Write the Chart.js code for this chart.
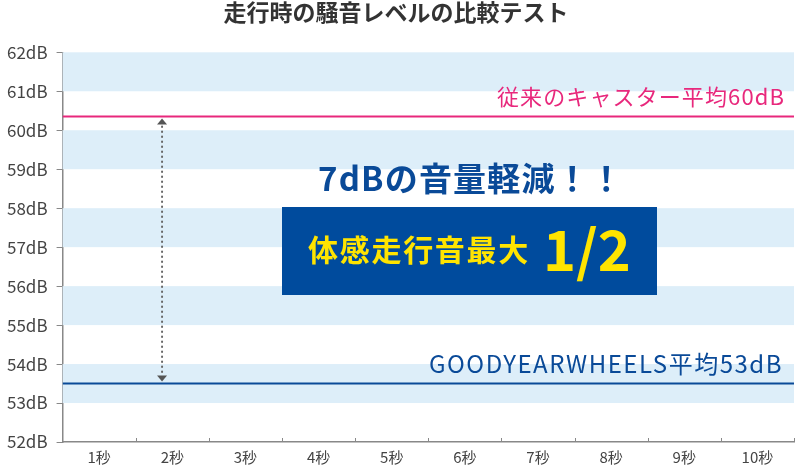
<!DOCTYPE html>
<html>
<head>
<meta charset="utf-8">
<script src="https://cdn.jsdelivr.net/npm/chart.js@4"></script>
<style>
  body { margin: 0; background: #fff; }
  #wrap { width: 800px; height: 466px; }
</style>
</head>
<body>
<div id="wrap"><canvas id="noise"></canvas></div>
<script>
// categories (x) and y range
const seconds = ['1秒', '2秒', '3秒', '4秒', '5秒', '6秒', '7秒', '8秒', '9秒', '10秒']
const yTicks = [52, 53, 54, 55, 56, 57, 58, 59, 60, 61, 62]

// averages, drawn as flat lines across the whole range (start / end)
const lineX = [0, 10]
const casterAvg = [60.35, 60.35]
const goodyearAvg = [53.5, 53.5]

// dotted arrow between the two lines (category position, from / to)
const arrowPos = 0.86
const arrowFrom = [60.3, 53.55]

const font = "'Noto Sans CJK JP', 'Noto Sans', sans-serif"

// draw text stretched to a given width with letter spacing
function fitText(ctx, txt, right, baseline, width) {
  ctx.letterSpacing = '0px'
  const w = ctx.measureText(txt).width
  const sp = (width - w) / txt.length
  ctx.letterSpacing = sp + 'px'
  ctx.textAlign = 'left'
  ctx.fillText(txt, right - width, baseline)
  ctx.letterSpacing = '0px'
}

const bands = {
  id: 'bands',
  beforeDatasetsDraw(chart) {
    const { ctx, chartArea: a, scales } = chart
    const y = scales.y
    ctx.save()
    ctx.fillStyle = '#ddeef9'
    for (let i = 0; i < yTicks.length - 1; i++) {
      if (yTicks[i] % 2 === 1) {
        const top = y.getPixelForValue(yTicks[i + 1])
        const bot = y.getPixelForValue(yTicks[i])
        ctx.fillRect(a.left, top, a.right - a.left, bot - top)
      }
    }
    ctx.restore()
  }
}

const extras = {
  id: 'extras',
  afterDraw(chart) {
    const { ctx, chartArea: a, scales } = chart
    const x = scales.x, y = scales.y
    ctx.save()

    // x tick marks, pointing inward
    ctx.strokeStyle = '#888'
    ctx.lineWidth = 1
    for (let i = 1; i <= seconds.length; i++) {
      const px = Math.round(x.getPixelForValue(i - 0.5)) + 0.5
      ctx.beginPath()
      ctx.moveTo(px, a.bottom)
      ctx.lineTo(px, a.bottom - 4)
      ctx.stroke()
    }

    // dotted arrow
    const ax = x.getPixelForValue(arrowPos)
    const y1 = y.getPixelForValue(arrowFrom[0])
    const y2 = y.getPixelForValue(arrowFrom[1])
    ctx.strokeStyle = '#666'
    ctx.lineWidth = 2
    ctx.lineCap = 'round'
    ctx.setLineDash([0.5, 4.5])
    ctx.beginPath()
    ctx.moveTo(ax, y1 + 8)
    ctx.lineTo(ax, y2 - 8)
    ctx.stroke()
    ctx.setLineDash([])
    ctx.fillStyle = '#555'
    ctx.beginPath()
    ctx.moveTo(ax, y1); ctx.lineTo(ax - 5, y1 + 6); ctx.lineTo(ax + 5, y1 + 6); ctx.closePath()
    ctx.fill()
    ctx.beginPath()
    ctx.moveTo(ax, y2); ctx.lineTo(ax - 5, y2 - 6); ctx.lineTo(ax + 5, y2 - 6); ctx.closePath()
    ctx.fill()

    // line labels
    ctx.textBaseline = 'alphabetic'
    ctx.font = '22px ' + font
    ctx.fillStyle = '#e8287c'
    fitText(ctx, '従来のキャスター平均60dB', 785, y.getPixelForValue(casterAvg[0]) - 12, 288)
    ctx.font = '24px ' + font
    ctx.fillStyle = '#0a4a98'
    fitText(ctx, 'GOODYEARWHEELS平均53dB', 783, y.getPixelForValue(goodyearAvg[0]) - 11, 354)

    // headline and box
    ctx.textBaseline = 'middle'
    ctx.font = 'bold 33px ' + font
    ctx.fillStyle = '#0a4a98'
    fitText(ctx, '7dBの音量軽減！！', 624, 178, 306)

    ctx.fillStyle = '#004b9d'
    ctx.fillRect(282, 207, 375, 88)
    ctx.fillStyle = '#ffe400'
    ctx.font = 'bold 30px ' + font
    fitText(ctx, '体感走行音最大', 530, 250, 222)
    ctx.textAlign = 'left'
    ctx.font = 'bold 56px ' + font
    ctx.fillText('1/2', 543, 250)

    ctx.restore()
  }
}

new Chart(document.getElementById('noise'), {
  type: 'line',
  data: {
    labels: seconds,
    datasets: [
      {
        label: '従来のキャスター平均60dB',
        xAxisID: 'xl',
        data: lineX.map((v, i) => ({ x: v, y: casterAvg[i] })),
        borderColor: '#e8287c',
        borderWidth: 2,
        pointRadius: 0,
      },
      {
        label: 'GOODYEARWHEELS平均53dB',
        xAxisID: 'xl',
        data: lineX.map((v, i) => ({ x: v, y: goodyearAvg[i] })),
        borderColor: '#0a4a98',
        borderWidth: 2,
        pointRadius: 0,
      },
    ],
  },
  options: {
    responsive: true,
    maintainAspectRatio: false,
    animation: false,
    layout: { padding: { left: -2, right: 6, top: 0, bottom: -6 } },
    plugins: {
      legend: { display: false },
      tooltip: { enabled: false },
      title: {
        display: true,
        text: '走行時の騒音レベルの比較テスト',
        color: '#333',
        font: { family: font, size: 23, weight: 'bold', lineHeight: 1.1 },
        padding: { top: 0, bottom: 27 },
      },
    },
    scales: {
      x: {
        type: 'category',
        offset: true,
        grid: { display: false, drawTicks: false, tickLength: 0 },
        border: { color: '#888', width: 1.5 },
        ticks: { color: '#444', font: { family: font, size: 15 }, padding: 6 },
      },
      xl: {
        type: 'linear',
        display: false,
        min: lineX[0],
        max: lineX[1],
      },
      y: {
        min: yTicks[0],
        max: yTicks[yTicks.length - 1],
        afterBuildTicks: (s) => { s.ticks = yTicks.map(v => ({ value: v })) },
        grid: { drawOnChartArea: false, tickLength: 6, color: '#888' },
        border: { color: '#888', width: 1.5 },
        ticks: {
          color: '#444',
          font: { family: font, size: 17 },
          padding: 9,
          callback: (v) => v + 'dB',
        },
      },
    },
  },
  plugins: [bands, extras],
})
</script>
</body>
</html>
